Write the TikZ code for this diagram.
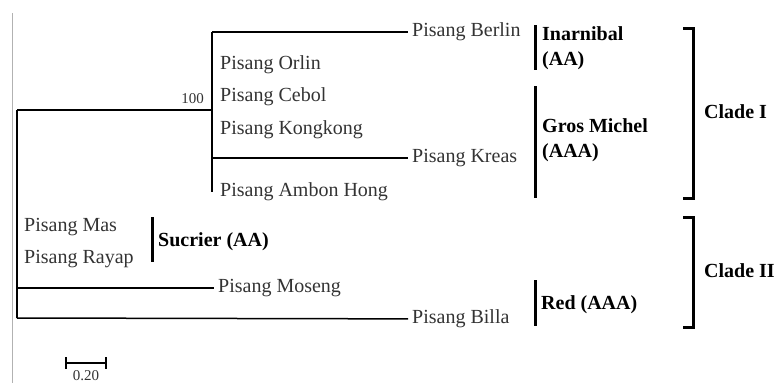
\documentclass[tikz,border=0pt]{standalone}
\usepackage{fontspec}
\setmainfont{Liberation Serif}
\usetikzlibrary{positioning}
\begin{document}
\begin{tikzpicture}[x=1pt,y=-1pt,
  taxon/.style={anchor=west,inner sep=4pt,text=treegray,font=\fontsize{20}{24}\selectfont},
  group/.style={anchor=west,inner sep=2pt,align=left,font=\bfseries\fontsize{20}{25}\selectfont},
  branch/.style={line width=1.5pt},
  bar/.style={line width=3pt}]

% Define the colors
\colorlet{treegray}{black!80}
\colorlet{axisgray}{black!30}

\useasboundingbox (0,0) rectangle (777,383);

% Draw the left rule
\draw[axisgray, line width=1pt] (12,13) -- (12,383);

% Define the branch points
\coordinate (r1) at (17,110);
\coordinate (r2) at (17,288);
\coordinate (r3) at (17,318);
\coordinate (c1) at (212,110);
\coordinate (c1top) at (212,32);
\coordinate (c1kreas) at (212,158);
\coordinate (c1bot) at (212,192);

% Place the taxa
\node[taxon] (berlin) at (408,32) {Pisang Berlin};
\node[taxon] (orlin) at (216,65) {Pisang Orlin};
\node[taxon] (cebol) at (216,97) {Pisang Cebol};
\node[taxon] (kongkong) at (216,130) {Pisang Kongkong};
\node[taxon] (kreas) at (408,158) {Pisang Kreas};
\node[taxon] (ambon) at (216,192) {Pisang Ambon Hong};
\node[taxon] (mas) at (20,227) {Pisang Mas};
\node[taxon] (rayap) at (20,259) {Pisang Rayap};
\node[taxon] (moseng) at (214,288) {Pisang Moseng};
\node[taxon] (billa) at (408,319) {Pisang Billa};

% Draw the branches
\draw[branch] (r1) -- (r3);
\draw[branch] (r1) -- (c1);
\draw[branch] (c1top) -- (c1bot);
\draw[branch] (c1top) -- (berlin);
\draw[branch] (c1kreas) -- (kreas);
\draw[branch] (r2) -- (moseng);
\draw[branch] (r3) -- (billa);

% Bootstrap value
\node[anchor=south east, inner sep=2pt, text=treegray, font=\fontsize{15}{15}\selectfont] (boot) at (206,106) {100};

% Draw the cultivar groups
\draw[bar] (535,25) -- (535,70);
\node[group] (inarnibal) at (540,48) {Inarnibal\\(AA)};
\draw[bar] (535,86) -- (535,198);
\node[group] (gros) at (540,140) {Gros Michel\\(AAA)};
\draw[bar] (152,217) -- (152,262);
\node[group] (sucrier) at (156,242) {Sucrier (AA)};
\draw[bar] (535,280) -- (535,326);
\node[group] (red) at (539,305) {Red (AAA)};

% Draw the clades
\draw[bar] (683,28) -- (693,28) -- (693,198) -- (683,198);
\node[group] (cladeI) at (702,112) {Clade I};
\draw[bar] (683,217) -- (693,217) -- (693,327) -- (683,327);
\node[group] (cladeII) at (702,271) {Clade II};

% Draw the scale bar
\draw[branch] (66,363) -- (106,363);
\draw[branch] (66,357) -- (66,369);
\draw[branch] (106,357) -- (106,369);
\node[anchor=north, inner sep=1pt, text=treegray, font=\fontsize{15}{15}\selectfont] (scale) at (86,369) {0.20};

\end{tikzpicture}
\end{document}
